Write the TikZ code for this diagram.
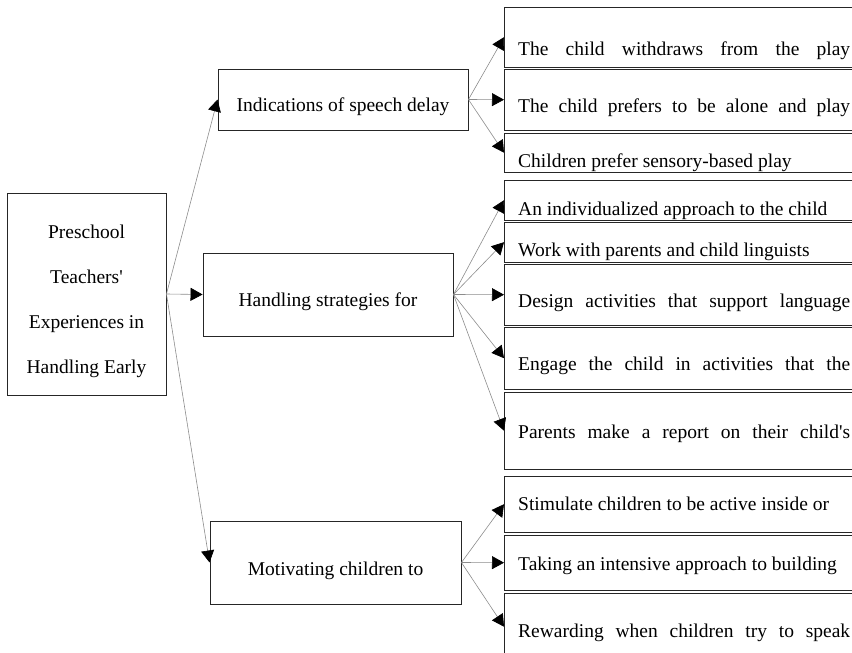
\documentclass[tikz,border=0pt]{standalone}
\usepackage{fontspec}
\setmainfont{Liberation Serif}
\usetikzlibrary{arrows.meta}
\newcommand{\fullrow}[1]{\makebox[332pt][s]{#1}}
\newcommand{\shortrow}[1]{\makebox[332pt][l]{#1}}
\begin{document}
\begin{tikzpicture}[x=1pt,y=-1pt,
    every node/.style={font=\fontsize{19.5}{23}\selectfont},
    box/.style={draw=black!85,line width=0.9pt,inner sep=0pt},
    item/.style={anchor=north west,inner xsep=14pt,inner ysep=0pt},
    rim/.style={draw=black!85,line width=0.9pt},
    conn/.style={draw=black!45,line width=0.6pt,-{Triangle[length=12pt,width=13pt,black]}}]
    \useasboundingbox (0,0) rectangle (852,653);
    \node[box,minimum width=159,minimum height=202,align=center,font=\fontsize{19.5}{45}\selectfont] (root) at (86.5,294) {\rule{0pt}{29pt}Preschool\\Teachers\textquotesingle\\Experiences in\\Handling Early};
    \node[box,minimum width=250,minimum height=61,text height=28,text depth=4] (ind) at (343,99.5) {Indications of speech delay};
    \node[box,minimum width=250,minimum height=83,text height=28.5,text depth=4] (hand) at (328,294.5) {Handling strategies for};
    \node[box,minimum width=251,minimum height=83,text height=29,text depth=4] (mot) at (335.5,562.5) {Motivating children to};
    \node[item,text height=48,text depth=12] (c1) at (504,7) {\fullrow{The child withdraws from the play}};
    \node[item,text height=43,text depth=18] (c2) at (504,69) {\fullrow{The child prefers to be alone and play}};
    \node[item,text height=34,text depth=5] (c3) at (504,133) {\shortrow{Children prefer sensory-based play}};
    \node[item,text height=35,text depth=5] (a1) at (504,180) {\shortrow{An individualized approach to the child}};
    \node[item,text height=34,text depth=6] (a2) at (504,222) {\shortrow{Work with parents and child linguists}};
    \node[item,text height=43,text depth=18] (a3) at (504,264) {\fullrow{Design activities that support language}};
    \node[item,text height=43,text depth=19] (a4) at (504,327) {\fullrow{Engage the child in activities that the}};
    \node[item,text height=46,text depth=31] (a5) at (504,392) {\fullrow{Parents make a report on their child\textquotesingle s}};
    \node[item,text height=34,text depth=22] (m1) at (504,476) {\shortrow{Stimulate children to be active inside or}};
    \node[item,text height=35,text depth=20] (m2) at (504,535) {\shortrow{Taking an intensive approach to building}};
    \node[item,text height=44,text depth=23] (m3) at (504,593) {\fullrow{Rewarding when children try to speak}};
    \foreach \t in {c1,c2,c3,a1,a2,a3,a4,a5,m1,m2,m3}
        \draw[rim] ([xshift=30pt]\t.north east) -- (\t.north west) -- (\t.south west) -- ([xshift=30pt]\t.south east);
    \draw[conn] (root.east) -- (ind.west);
    \draw[conn] (root.east) -- (hand.west);
    \draw[conn] (root.east) -- (mot.west);
    \foreach \t in {c1,c2,c3} \draw[conn] (ind.east) -- (\t.west);
    \foreach \t in {a1,a2,a3,a4,a5} \draw[conn] (hand.east) -- (\t.west);
    \foreach \t in {m1,m2,m3} \draw[conn] (mot.east) -- (\t.west);
\end{tikzpicture}
\end{document}
